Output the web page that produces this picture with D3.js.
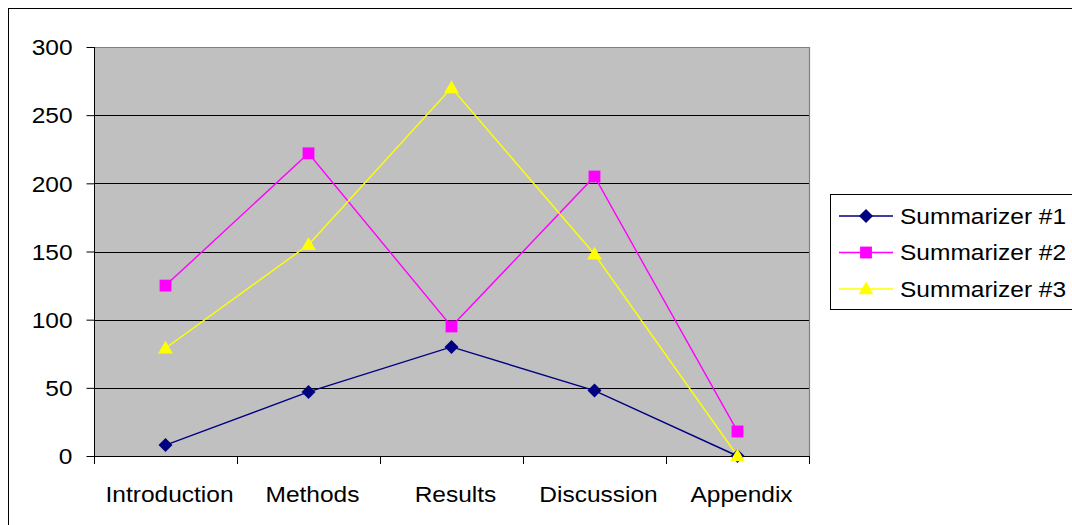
<!DOCTYPE html>
<html>
<head>
<meta charset="utf-8">
<script src="https://cdn.jsdelivr.net/npm/d3@7"></script>
<style>
  html, body { margin: 0; padding: 0; background: #fff; }
  svg { display: block; }
  text { font-family: "Liberation Sans", Arial, sans-serif; fill: #000; }
</style>
</head>
<body>
<svg id="chart" width="1072" height="525"></svg>
<script>
// Word counts per paper section for each summarizer
const categories = ["Introduction", "Methods", "Results", "Discussion", "Appendix"];
const seriesNames = ["Summarizer #1", "Summarizer #2", "Summarizer #3"];
const summarizer1 = [8, 47, 80, 48, 0];
const summarizer2 = [125, 222, 95, 205, 18];
const summarizer3 = [79, 155, 270, 148, 0];
const yTicks = [0, 50, 100, 150, 200, 250, 300];

const seriesColors = ["#000080", "#FF00FF", "#FFFF00"];
const markerTypes = [d3.symbolDiamond2, d3.symbolSquare, d3.symbolTriangle];
const markerSizes = [125, 140, 95];

const series = seriesNames.map((name, i) => ({
  name,
  values: [summarizer1, summarizer2, summarizer3][i],
  color: seriesColors[i],
  symbol: markerTypes[i],
  size: markerSizes[i]
}));

const svg = d3.select("#chart");
const plot = { left: 94, right: 809, top: 47, bottom: 456 };
const fontSize = 21.5;
const stretch = 1.14;

// Outer chart frame
svg.append("rect")
  .attr("x", 8.5).attr("y", 8.5)
  .attr("width", 1100).attr("height", 600)
  .attr("fill", "#fff").attr("stroke", "#000").attr("stroke-width", 1);

const x = d3.scaleBand().domain(categories).range([plot.left, plot.right]);
const y = d3.scaleLinear().domain([0, 300]).range([plot.bottom, plot.top]);

// Plot area background
svg.append("rect")
  .attr("x", plot.left).attr("y", plot.top)
  .attr("width", plot.right - plot.left).attr("height", plot.bottom - plot.top)
  .attr("fill", "#C0C0C0");

// Horizontal gridlines
svg.append("g")
  .selectAll("line")
  .data(yTicks.filter(d => d > 0 && d < 300))
  .join("line")
  .attr("x1", plot.left).attr("x2", plot.right)
  .attr("y1", d => Math.round(y(d)) + 0.5).attr("y2", d => Math.round(y(d)) + 0.5)
  .attr("stroke", "#000").attr("stroke-width", 1);

// Top and right borders of the plot area
svg.append("path")
  .attr("d", `M${plot.left},${plot.top + 0.5}H${plot.right + 0.5}V${plot.bottom}`)
  .attr("fill", "none").attr("stroke", "#808080").attr("stroke-width", 1.2);

// Y axis
const yAxis = svg.append("g")
  .attr("transform", `translate(${plot.left + 0.5},0)`)
  .call(d3.axisLeft(y).tickValues(yTicks).tickSize(8).tickPadding(14).tickFormat(d3.format("d")));
yAxis.select(".domain").attr("stroke", "#000").attr("d", `M0,${plot.top}V${plot.bottom + 8}`);
yAxis.selectAll(".tick line").attr("stroke", "#000");
yAxis.selectAll(".tick text")
  .attr("font-size", fontSize)
  .attr("font-family", null)
  .attr("fill", "#000")
  .attr("dy", "0.36em")
  .attr("transform", function() {
    const xx = +d3.select(this).attr("x");
    return `translate(${xx},0) scale(${stretch},1) translate(${-xx},0)`;
  });

// X axis: line plus ticks at the category boundaries
const xg = svg.append("g");
xg.append("line")
  .attr("x1", plot.left).attr("x2", plot.right + 1)
  .attr("y1", plot.bottom + 0.5).attr("y2", plot.bottom + 0.5)
  .attr("stroke", "#000");
const boundaries = categories.map(c => x(c) + x.bandwidth()).concat([x(categories[0])]);
xg.selectAll("line.tk")
  .data(boundaries)
  .join("line")
  .attr("class", "tk")
  .attr("x1", d => Math.round(d) + 0.5).attr("x2", d => Math.round(d) + 0.5)
  .attr("y1", plot.bottom).attr("y2", plot.bottom + 8)
  .attr("stroke", "#000");
xg.selectAll("text")
  .data(categories)
  .join("text")
  .attr("text-anchor", "middle")
  .attr("font-size", fontSize)
  .attr("transform", d => `translate(${x(d) + x.bandwidth() / 2 + 4},${plot.bottom + 46}) scale(${stretch},1)`)
  .text(d => d);

// Series lines and markers
const line = d3.line()
  .x((d, i) => x(categories[i]) + x.bandwidth() / 2)
  .y(d => y(d));

series.forEach(s => {
  svg.append("path")
    .datum(s.values)
    .attr("d", line)
    .attr("fill", "none")
    .attr("stroke", s.color)
    .attr("stroke-width", 1.4);
});
series.forEach(s => {
  svg.append("g")
    .selectAll("path")
    .data(s.values)
    .join("path")
    .attr("d", d3.symbol().type(s.symbol).size(s.size))
    .attr("transform", (d, i) => `translate(${x(categories[i]) + x.bandwidth() / 2},${y(d) + (s.symbol === d3.symbolTriangle ? 1 : 0)})`)
    .attr("fill", s.color);
});

// Legend
const legend = svg.append("g");
legend.append("rect")
  .attr("x", 830.5).attr("y", 194.5)
  .attr("width", 300).attr("height", 115)
  .attr("fill", "#fff").attr("stroke", "#000").attr("stroke-width", 1);
series.forEach((s, i) => {
  const ly = 216 + i * 36.5;
  legend.append("line")
    .attr("x1", 839).attr("x2", 893)
    .attr("y1", ly).attr("y2", ly)
    .attr("stroke", s.color).attr("stroke-width", 1.4);
  legend.append("path")
    .attr("d", d3.symbol().type(s.symbol).size(s.size))
    .attr("transform", `translate(866,${ly + (s.symbol === d3.symbolTriangle ? 1 : 0)})`)
    .attr("fill", s.color);
  legend.append("text")
    .attr("font-size", fontSize)
    .attr("transform", `translate(900,${ly + 7.5}) scale(${stretch},1)`)
    .text(s.name);
});
</script>
</body>
</html>
